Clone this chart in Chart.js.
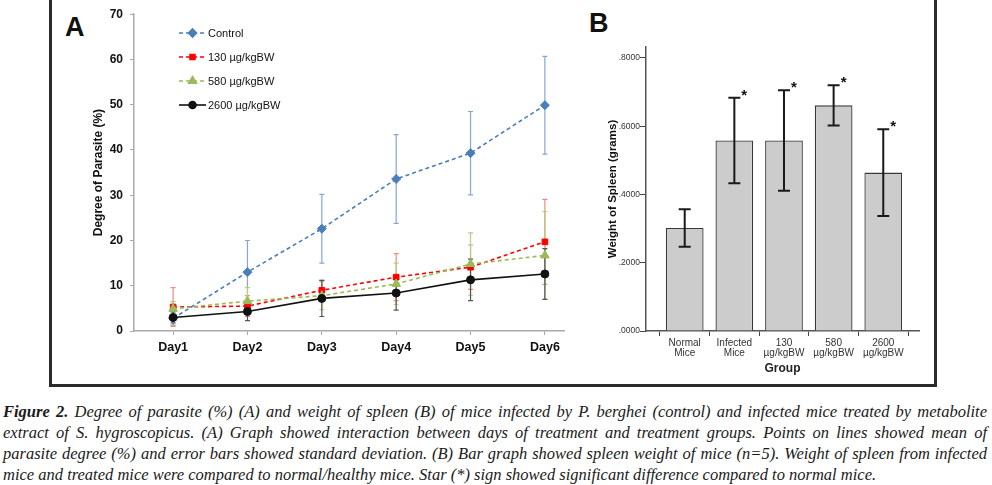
<!DOCTYPE html>
<html>
<head>
<meta charset="utf-8">
<script src="https://cdn.jsdelivr.net/npm/chart.js@4.4.0/dist/chart.umd.min.js"></script>
<style>
  body { margin:0; background:#fff; width:992px; height:485px; overflow:hidden; position:relative;
         font-family:'Liberation Sans', Arial, sans-serif; }
  #frame { position:absolute; left:49px; top:-4px; width:888px; height:391px; box-sizing:border-box;
           border:3px solid #2b2b2b; border-top:none; }
  .panel { position:absolute; font-weight:bold; font-size:27px; color:#111; }
  #wrapA { position:absolute; left:0; top:0; width:570px; height:385px; }
  #wrapB { position:absolute; left:560px; top:0; width:372px; height:385px; }
  #caption { position:absolute; left:3px; top:401px; width:984px; font-family:'Liberation Serif', 'Times New Roman', serif;
             font-style:italic; font-size:16.5px; line-height:21px; color:#1a1a1a; }
  #caption div { text-align:justify; text-align-last:justify; white-space:nowrap; }
  #caption div.last { text-align-last:left; }
</style>
</head>
<body>
<div id="frame"></div>
<div class="panel" style="left:65px;top:12px">A</div>
<div class="panel" style="left:589px;top:8px">B</div>
<div id="wrapA"><canvas id="chart-parasite"></canvas></div>
<div id="wrapB"><canvas id="chart-spleen"></canvas></div>
<div id="caption">
  <div><b>Figure 2.</b> Degree of parasite (%) (A) and weight of spleen (B) of mice infected by P. berghei (control) and infected mice treated by metabolite</div>
  <div>extract of S. hygroscopicus. (A) Graph showed interaction between days of treatment and treatment groups. Points on lines showed mean of</div>
  <div>parasite degree (%) and error bars showed standard deviation. (B) Bar graph showed spleen weight of mice (n=5). Weight of spleen from infected</div>
  <div class="last">mice and treated mice were compared to normal/healthy mice. Star (*) sign showed significant difference compared to normal mice.</div>
</div>
<script>
// painel A — grau de parasitemia por dia
const days        = ['Day1', 'Day2', 'Day3', 'Day4', 'Day5', 'Day6'];
const controlMean = [2.8, 13.0, 22.6, 33.6, 39.3, 49.9];
const controlSD   = [1.5, 7.0, 7.6, 9.8, 9.2, 10.8];
const dose130Mean = [5.3, 5.5, 9.0, 11.9, 14.1, 19.7];
const dose130SD   = [4.3, 2.3, 2.2, 5.2, 4.9, 9.4];
const dose580Mean = [4.9, 6.6, 7.8, 10.4, 14.8, 16.7];
const dose580SD   = [1.6, 3.0, 3.1, 4.6, 6.9, 9.7];
const dose2600Mean= [3.0, 4.3, 7.2, 8.4, 11.3, 12.6];
const dose2600SD  = [1.2, 2.0, 4.0, 3.8, 4.6, 5.6];
const yTicksA     = [0, 10, 20, 30, 40, 50, 60, 70];

// painel B — peso do baço
const groups      = [['Normal', 'Mice'], ['Infected', 'Mice'], ['130', 'µg/kgBW'], ['580', 'µg/kgBW'], ['2600', 'µg/kgBW']];
const spleenMean  = [0.302, 0.558, 0.558, 0.661, 0.464];
const spleenSD    = [0.055, 0.125, 0.147, 0.059, 0.127];
const spleenStar  = [false, true, true, true, true];
const yTicksB     = [0, 0.2, 0.4, 0.6, 0.8];

Chart.defaults.font.family = "'Liberation Sans', Arial, sans-serif";
Chart.defaults.animation = false;
Chart.defaults.responsive = true;
Chart.defaults.maintainAspectRatio = false;

function mkChart(id, config) {
  const el = document.getElementById(id);
  return new Chart(el.getContext('2d'), config);
}

const pts = arr => arr.map((v, i) => ({ x: i + 1, y: v }));

// barras de erro (desvio padrão), desenhadas pelas escalas do gráfico
function drawErrors(chart, onTop) {
  const { ctx, scales: { x, y } } = chart;
  chart.data.datasets.forEach(ds => {
    if (!ds.sd || !!ds.errOnTop !== onTop) return;
    ctx.save();
    ctx.strokeStyle = ds.errColor;
    ctx.lineWidth = ds.errWidth;
    ds.data.forEach((p, i) => {
      const px = x.getPixelForValue(p.x);
      const top = y.getPixelForValue(p.y + ds.sd[i]);
      const bot = y.getPixelForValue(Math.max(0, p.y - ds.sd[i]));
      const c = ds.capHalf;
      ctx.beginPath();
      ctx.moveTo(px, top); ctx.lineTo(px, bot);
      ctx.moveTo(px - c, top); ctx.lineTo(px + c, top);
      ctx.moveTo(px - c, bot); ctx.lineTo(px + c, bot);
      ctx.stroke();
      if (ds.stars && ds.stars[i]) {
        ctx.fillStyle = '#111';
        ctx.font = 'bold 15px "Liberation Sans", Arial';
        ctx.textAlign = 'left';
        ctx.textBaseline = 'middle';
        ctx.fillText('*', px + c + 1, top - 2);
      }
    });
    ctx.restore();
  });
}

const errorBars = {
  id: 'errorBars',
  beforeDatasetsDraw(chart) { drawErrors(chart, false); },
  afterDatasetsDraw(chart) { drawErrors(chart, true); }
};

// legenda do painel A (linha + marcador)
const lineLegend = {
  id: 'lineLegend',
  afterDraw(chart) {
    const ctx = chart.ctx;
    chart.data.datasets.forEach((ds, i) => {
      const yy = 33 + i * 24;
      ctx.save();
      ctx.strokeStyle = ds.borderColor;
      ctx.lineWidth = ds.borderWidth;
      ctx.setLineDash(ds.borderDash || []);
      ctx.beginPath(); ctx.moveTo(179, yy); ctx.lineTo(206, yy); ctx.stroke();
      ctx.setLineDash([]);
      ctx.fillStyle = ds.pointBackgroundColor;
      ctx.strokeStyle = ds.pointBackgroundColor;
      Chart.helpers.drawPoint(ctx, { pointStyle: ds.pointStyle, radius: ds.pointRadius - 0.5, rotation: 0, borderWidth: 1 }, 192.5, yy);
      ctx.fillStyle = '#111';
      ctx.font = '11px "Liberation Sans", Arial';
      ctx.textAlign = 'left';
      ctx.textBaseline = 'middle';
      ctx.fillText(ds.label, 208, yy + 0.5);
      ctx.restore();
    });
  }
};

function lineSet(label, mean, sd, color, errColor, style, radius, dash, order) {
  return {
    label, data: pts(mean), sd, errColor, errWidth: 1.2, capHalf: 2.5,
    borderColor: color, borderWidth: 1.6, borderDash: dash,
    pointStyle: style, pointRadius: radius, pointBackgroundColor: color, pointBorderColor: color,
    pointBorderWidth: 1, tension: 0, fill: false, order,
  };
}

mkChart('chart-parasite', {
  type: 'line',
  data: {
    datasets: [
      lineSet('Control',      controlMean,  controlSD,  '#4a7ebb', '#86a6d2', 'rectRot',  4.5, [4, 3], 3),
      lineSet('130 µg/kgBW',  dose130Mean,  dose130SD,  '#ff0000', '#f08a80', 'rect',     4,   [4, 3], 2),
      lineSet('580 µg/kgBW',  dose580Mean,  dose580SD,  '#9bbb59', '#b3cf7f', 'triangle', 5,   [4, 3], 1),
      lineSet('2600 µg/kgBW', dose2600Mean, dose2600SD, '#111111', '#555555', 'circle',   4,   [],     0),
    ]
  },
  options: {
    layout: { padding: { left: 87, top: 14, right: 5, bottom: 0 } },
    plugins: { legend: { display: false }, tooltip: { enabled: false } },
    scales: {
      x: {
        type: 'linear', min: 0.474, max: 6.257,
        afterBuildTicks: s => { s.ticks = days.map((d, i) => ({ value: i + 1 })); },
        afterFit: s => { s.height = 54; },
        grid: { drawOnChartArea: false, tickLength: 4, color: '#aaa' },
        border: { color: '#aaa', width: 1.5 },
        ticks: { callback: v => days[v - 1], color: '#111', font: { size: 12.5, weight: 'bold' }, padding: 5, maxRotation: 0 },
      },
      y: {
        min: 0, max: 70,
        afterBuildTicks: s => { s.ticks = yTicksA.map(v => ({ value: v })); },
        afterFit: s => { s.width = 47; },
        grid: { drawOnChartArea: false, tickLength: 4, color: '#aaa' },
        border: { color: '#aaa', width: 1.5 },
        ticks: { color: '#111', font: { size: 12, weight: 'bold' }, padding: 7 },
        title: { display: true, text: 'Degree of Parasite (%)', color: '#111', font: { size: 12, weight: 'bold' }, padding: { top: 4, bottom: 0 } },
      }
    }
  },
  plugins: [errorBars, lineLegend]
});

mkChart('chart-spleen', {
  type: 'bar',
  data: {
    datasets: [{
      label: 'Weight of Spleen',
      data: pts(spleenMean),
      sd: spleenSD, stars: spleenStar, errOnTop: true, errColor: '#1a1a1a', errWidth: 2, capHalf: 6,
      backgroundColor: '#cccccc', borderColor: '#3a3a3a', borderWidth: 1.3,
      barPercentage: 0.76, categoryPercentage: 1,
    }]
  },
  options: {
    layout: { padding: { left: 42, top: 47, right: 13, bottom: 9 } },
    plugins: { legend: { display: false }, tooltip: { enabled: false } },
    scales: {
      x: {
        type: 'linear', min: 0.22, max: 5.72, offset: false,
        afterBuildTicks: s => { s.ticks = groups.map((g, i) => ({ value: i + 1 })); },
        afterFit: s => { s.height = 45; },
        grid: { drawOnChartArea: false, tickLength: 5, color: '#444' },
        border: { color: '#555', width: 1.5 },
        ticks: { callback: v => groups[v - 1], color: '#333', font: { size: 10, lineHeight: 1.0 }, padding: 2, maxRotation: 0 },
        title: { display: true, text: 'Group', color: '#222', font: { size: 12, weight: 'bold' }, padding: { top: 2, bottom: 0 } },
      },
      y: {
        min: 0, max: 0.832,
        afterBuildTicks: s => { s.ticks = yTicksB.map(v => ({ value: v })); },
        afterFit: s => { s.width = 44; },
        grid: { drawOnChartArea: false, tickLength: 6, color: '#444' },
        border: { color: '#555', width: 1.5 },
        ticks: { callback: v => v.toFixed(4).replace(/^0/, ''), color: '#333', font: { size: 8.5 }, padding: 0 },
        title: { display: true, text: 'Weight of Spleen (grams)', color: '#111', font: { size: 11.5, weight: 'bold' }, padding: { top: 4, bottom: 0 } },
      }
    }
  },
  plugins: [errorBars]
});
</script>
</body>
</html>
